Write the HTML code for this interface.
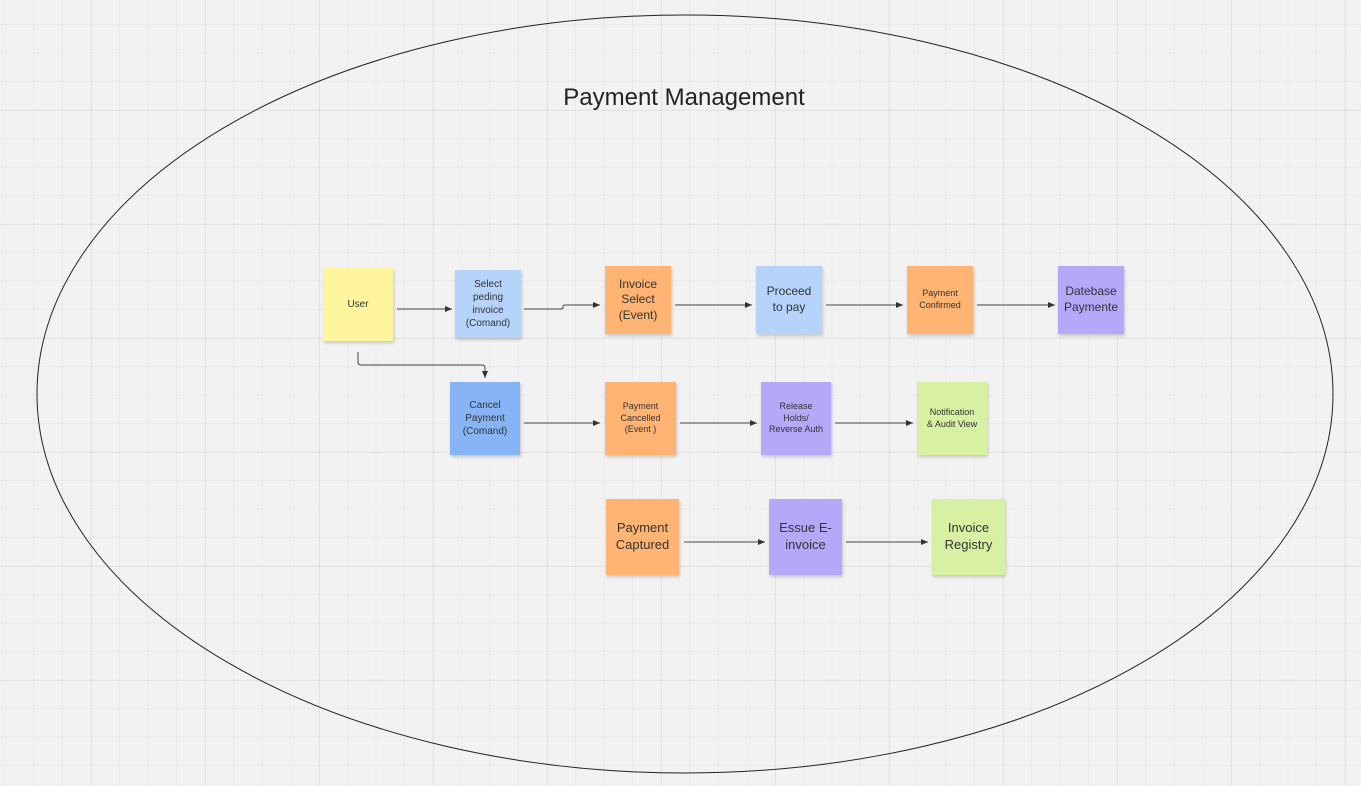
<!DOCTYPE html>
<html><head><style>
body{margin:0;width:1361px;height:786px;overflow:hidden;background:#f2f2f2;font-family:"Liberation Sans",sans-serif;position:relative}
.grid{position:absolute;inset:0;background-image:
linear-gradient(90deg,rgba(0,0,0,.045) 1px,transparent 1px),
linear-gradient(0deg,rgba(0,0,0,.045) 1px,transparent 1px),
linear-gradient(90deg,rgba(0,0,0,.028) 1px,transparent 1px),
linear-gradient(0deg,rgba(0,0,0,.028) 1px,transparent 1px);
background-size:114px 114px,114px 114px,28.5px 28.5px,28.5px 28.5px;
background-position:91px 0,0 111px,5px 0,0 25px}
.n{position:absolute;display:flex;align-items:center;justify-content:center;text-align:center;color:#333;box-shadow:1px 2px 3px rgba(0,0,0,.18);line-height:1.3}
.y{background:#fff59e}.lb{background:#b5d3fb}.o{background:#ffb473}.p{background:#b6a7f8}.b{background:#86b4f4}.g{background:#d7f0a2}
</style></head><body>
<div class="grid"></div>
<svg width="1361" height="786" style="position:absolute;left:0;top:0">
<defs><marker id="a" markerWidth="8" markerHeight="8" refX="7" refY="4" orient="auto" markerUnits="userSpaceOnUse"><path d="M0,1 L7,4 L0,7z" fill="#333"/></marker></defs>
<ellipse cx="685" cy="394" rx="648" ry="379" fill="none" stroke="#222" stroke-width="1"/>
<g stroke="#444" stroke-width="1" fill="none" marker-end="url(#a)">
<path d="M397 309H452"/>
<path d="M524 309H561Q563 309 563 307Q563 305 565 305H600"/>
<path d="M675 305H752"/><path d="M826 305H903"/><path d="M977 305H1055"/>
<path d="M358 352V362Q358 365 361 365H482Q485 365 485 368V378"/>
<path d="M524 423H600"/><path d="M680 423H757"/><path d="M835 423H913"/>
<path d="M684 542H765"/><path d="M846 542H928"/>
</g>
<text x="684" y="105" font-family="Liberation Sans,sans-serif" font-size="24" fill="#222" text-anchor="middle">Payment Management</text>
</svg>
<div class="n y" style="left:323px;top:268px;width:70px;height:73px;font-size:10px">User</div>
<div class="n lb" style="left:455px;top:270px;width:66px;height:68px;font-size:10px">Select<br>peding<br>invoice<br>(Comand)</div>
<div class="n o" style="left:605px;top:266px;width:66px;height:68px;font-size:12px">Invoice<br>Select<br>(Event)</div>
<div class="n lb" style="left:756px;top:266px;width:66px;height:68px;font-size:12px">Proceed<br>to pay</div>
<div class="n o" style="left:907px;top:266px;width:66px;height:68px;font-size:9px">Payment<br>Confirmed</div>
<div class="n p" style="left:1058px;top:266px;width:66px;height:68px;font-size:12px">Datebase<br>Paymente</div>
<div class="n b" style="left:450px;top:382px;width:70px;height:73px;font-size:10px">Cancel<br>Payment<br>(Comand)</div>
<div class="n o" style="left:605px;top:382px;width:71px;height:73px;font-size:9px">Payment<br>Cancelled<br>(Event )</div>
<div class="n p" style="left:761px;top:382px;width:70px;height:73px;font-size:9px">Release<br>Holds/<br>Reverse Auth</div>
<div class="n g" style="left:917px;top:382px;width:70px;height:73px;font-size:9px">Notification<br>&amp; Audit View</div>
<div class="n o" style="left:606px;top:499px;width:73px;height:76px;font-size:13px">Payment<br>Captured</div>
<div class="n p" style="left:769px;top:499px;width:73px;height:76px;font-size:13px">Essue E-<br>invoice</div>
<div class="n g" style="left:932px;top:499px;width:73px;height:76px;font-size:13px">Invoice<br>Registry</div>
</body></html>
